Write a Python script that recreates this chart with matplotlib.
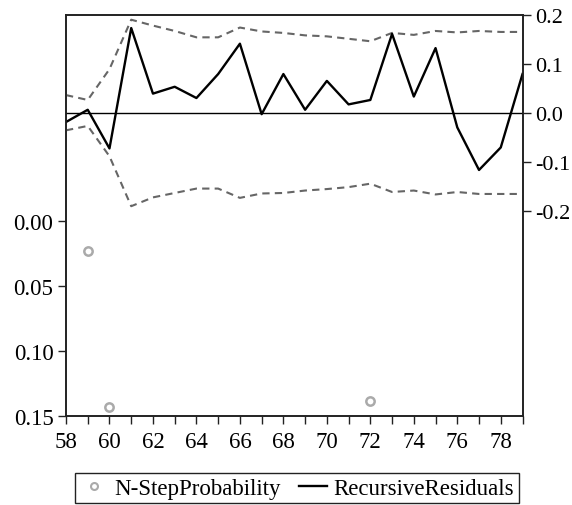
import numpy as np
import matplotlib
matplotlib.use("Agg")
import matplotlib.pyplot as plt
from matplotlib.lines import Line2D

plt.rcParams["font.family"] = ["Liberation Serif", "DejaVu Serif"]
plt.rcParams["axes.unicode_minus"] = False

# =========================
# data
# =========================
years = np.arange(58, 80)
resid = [-0.018, 0.007, -0.072, 0.174, 0.040, 0.054, 0.031, 0.080, 0.142, -0.002, 0.080,
         0.007, 0.066, 0.018, 0.027, 0.162, 0.034, 0.133, -0.029, -0.116, -0.070, 0.080]
upper = [0.037, 0.027, 0.090, 0.191, 0.179, 0.168, 0.155, 0.155, 0.175, 0.167, 0.164,
         0.159, 0.157, 0.152, 0.147, 0.164, 0.160, 0.168, 0.165, 0.168, 0.166, 0.166]
lower = [-0.035, -0.026, -0.088, -0.190, -0.172, -0.163, -0.154, -0.154, -0.173, -0.164, -0.163,
         -0.158, -0.155, -0.151, -0.144, -0.161, -0.158, -0.166, -0.161, -0.165, -0.165, -0.165]

prob_years = [59, 60, 72]
prob_vals = [0.023, 0.143, 0.139]

left_ticks = [0.00, 0.05, 0.10, 0.15]
right_ticks = [-0.2, -0.1, 0.0, 0.1, 0.2]

FS = 16.5
W, H = 572, 506

fig = plt.figure(figsize=(W / 100, H / 100), dpi=100)
ax = fig.add_axes([66 / W, 1 - 416.7 / H, (522.5 - 66) / W, (416.7 - 16.3) / H])
ax2 = ax.twinx()

# ---- left: N-step probability (inverted) ----
ax.plot(prob_years, prob_vals, "o", ls="none", mfc="none", mec="#aaaaaa",
        ms=6, mew=1.8, clip_on=False)
ax.set_ylim(0.15, -0.158)
ax.set_yticks(left_ticks)
ax.set_yticklabels([f"{v:.2f}" for v in left_ticks])

# ---- right: recursive residuals ----
ax2.axhline(0, color="black", lw=1.0)
ax2.plot(years, upper, color="#666666", lw=1.5, ls=(0, (3.5, 2.5)))
ax2.plot(years, lower, color="#666666", lw=1.5, ls=(0, (3.5, 2.5)))
ax2.plot(years, resid, color="black", lw=1.7)
ax2.set_ylim(-0.618, 0.2)
ax2.set_yticks(right_ticks)
ax2.set_yticklabels([f"{v:.1f}" for v in right_ticks])

ax.set_xlim(58, 79)
ax.set_xticks(np.arange(58, 79, 2))
ax.set_xticks(np.arange(59, 80, 2), minor=True)

for a in (ax, ax2):
    for s in a.spines.values():
        s.set_linewidth(1.2)
        s.set_color("#222222")
    a.tick_params(axis="both", which="both", direction="out", length=6, width=1.0,
                  labelsize=FS, color="#222222")
ax.tick_params(axis="x", pad=5)
ax.tick_params(axis="y", pad=3)
ax2.tick_params(axis="y", pad=3, labelsize=16)

handles = [
    Line2D([], [], ls="none", marker="o", mfc="none", mec="#aaaaaa", ms=5, mew=1.5),
    Line2D([], [], color="black", lw=1.7),
]
leg = fig.legend(handles, ["N-StepProbability", "RecursiveResiduals"],
                 loc="upper center", bbox_to_anchor=(297 / W, 1 - 474 / H),
                 ncol=2, frameon=True, fancybox=False, framealpha=1,
                 edgecolor="#222222", fontsize=FS, handlelength=1.2,
                 handletextpad=0.3, columnspacing=0.8, borderpad=0.2,
                 borderaxespad=0)
leg.get_frame().set_linewidth(1.0)

fig.savefig("out.png", dpi=100)
